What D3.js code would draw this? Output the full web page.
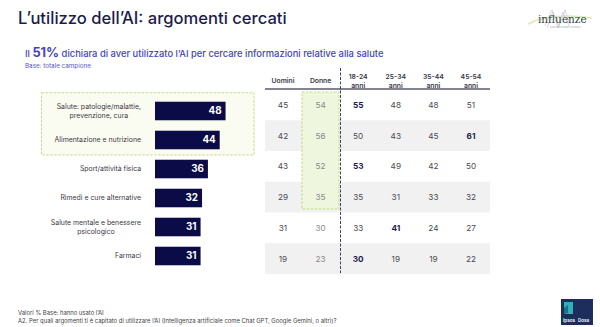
<!DOCTYPE html>
<html>
<head>
<meta charset="utf-8">
<script src="https://cdn.jsdelivr.net/npm/d3@7"></script>
<style>
  html, body { margin: 0; padding: 0; background: #fff; }
  svg { display: block; font-family: "Inter", "Open Sans", sans-serif; }
</style>
</head>
<body>
<svg id="chart" width="600" height="327"></svg>
<script>
// ---------- data ----------
const categories = [
  "Salute: patologie/malattie, prevenzione, cura",
  "Alimentazione e nutrizione",
  "Sport/attività fisica",
  "Rimedi e cure alternative",
  "Salute mentale e benessere psicologico",
  "Farmaci"
];
const categoryLines = [
  ["Salute: patologie/malattie,", "prevenzione, cura"],
  ["Alimentazione e nutrizione"],
  ["Sport/attività fisica"],
  ["Rimedi e cure alternative"],
  ["Salute mentale e benessere", "psicologico"],
  ["Farmaci"]
];
const totals = [48, 44, 36, 32, 31, 31];

const columnKeys = ["Uomini", "Donne", "18-24", "25-34", "35-44", "45-54"];
const columnHeaders = [["Uomini"], ["Donne"], ["18-24", "anni"], ["25-34", "anni"], ["35-44", "anni"], ["45-54", "anni"]];
const uomini = [45, 42, 43, 29, 31, 19];
const donne  = [54, 56, 52, 35, 30, 23];
const eta1824 = [55, 50, 53, 35, 33, 30];
const eta2534 = [48, 43, 49, 31, 41, 19];
const eta3544 = [48, 45, 42, 33, 24, 19];
const eta4554 = [51, 61, 50, 32, 27, 22];
// highlighted (bold) cells: [column, row]
const highlights = [["18-24", 0], ["18-24", 2], ["18-24", 5], ["25-34", 4], ["45-54", 1]];

const titleText = "L\u2019utilizzo dell\u2019AI: argomenti cercati";
const footer1 = "Valori % Base: hanno usato l\u2019AI";
const footer2 = "A2. Per quali argomenti ti è capitato di utilizzare l\u2019AI (Intelligenza artificiale come Chat GPT, Google Gemini, o altri)?";

// ---------- drawing ----------
const svg = d3.select("#chart");
const navy = "#0b0b47";
const dark = "#1c1c4c";
const blue = "#4343c4";

// title
svg.append("text").attr("x", 18).attr("y", 24)
  .attr("font-size", 16.6).attr("font-weight", 500).attr("fill", dark)
  .text(titleText);

// subtitle
const sub = svg.append("text").attr("x", 25).attr("y", 57).attr("fill", blue).attr("font-weight", 500);
sub.append("tspan").attr("font-size", 9.4).text("Il ");
sub.append("tspan").attr("font-size", 12.8).attr("font-weight", 700).text("51%");
sub.append("tspan").attr("font-size", 9.4).text(" dichiara di aver utilizzato l\u2019AI per cercare informazioni relative alla salute");
svg.append("text").attr("x", 25).attr("y", 67.5).attr("font-size", 6.3).attr("fill", "#5555c8").text("Base: totale campione");

// scales for bars
const y = d3.scaleBand().domain(categories).range([96.5, 270.5]).paddingInner(0.36).paddingOuter(0.18);
const x = d3.scaleLinear().domain([0, 100]).range([155, 302]);

// green highlight box around first two categories
const boxTop = y(categories[0]) - 9;
const boxBottom = y(categories[1]) + y.bandwidth() + 5.7;
svg.append("rect").attr("x", 41.5).attr("y", boxTop).attr("width", 212.5).attr("height", boxBottom - boxTop)
  .attr("fill", "#fafcf2").attr("stroke", "#bcd977").attr("stroke-width", 0.9).attr("stroke-dasharray", "2.5,1.5");

// table scales
const col = d3.scalePoint().domain(columnKeys).range([283, 471]);
const row = d3.scaleBand().domain(categories).range([89.5, 274]);
const tableLeft = 265, tableRight = 490;

// row shading
svg.append("g").selectAll("rect").data(categories.filter((d, i) => i % 2 === 1)).join("rect")
  .attr("x", tableLeft).attr("y", d => row(d)).attr("width", tableRight - tableLeft).attr("height", row.bandwidth())
  .attr("fill", "#f1f1f1");

// Donne highlight box
const dTop = row(categories[0]) + 2.5;
const dBottom = row(categories[3]) + row.bandwidth() - 3.5;
svg.append("rect").attr("x", 302).attr("y", dTop).attr("width", 37).attr("height", dBottom - dTop)
  .attr("fill", "#eef6de").attr("stroke", "#bcd977").attr("stroke-width", 0.9).attr("stroke-dasharray", "2.5,1.5");

// header line
svg.append("line").attr("x1", tableLeft).attr("x2", tableRight).attr("y1", 89).attr("y2", 89)
  .attr("stroke", "#5a5a6a").attr("stroke-width", 1.3);

// vertical dashed separator
svg.append("line").attr("x1", 340.5).attr("x2", 340.5).attr("y1", 68).attr("y2", 273)
  .attr("stroke", "#2a2a5a").attr("stroke-width", 0.9).attr("stroke-dasharray", "3,1.5");

// headers
columnKeys.forEach((k, i) => {
  const lines = columnHeaders[i];
  const t = svg.append("text").attr("x", col(k)).attr("text-anchor", "middle")
    .attr("font-size", 6.8).attr("font-weight", 600).attr("fill", "#3a3a48");
  if (lines.length === 1) {
    t.attr("y", 83).text(lines[0]);
  } else {
    t.attr("y", 78.5).text(lines[0]);
    svg.append("text").attr("x", col(k)).attr("y", 87.5).attr("text-anchor", "middle")
      .attr("font-size", 6.8).attr("font-weight", 600).attr("fill", "#3a3a48").text(lines[1]);
  }
});

// table values
const tableData = { "Uomini": uomini, "Donne": donne, "18-24": eta1824, "25-34": eta2534, "35-44": eta3544, "45-54": eta4554 };
const isBold = (k, r) => highlights.some(h => h[0] === k && h[1] === r);
columnKeys.forEach(k => {
  svg.append("g").selectAll("text").data(tableData[k]).join("text")
    .attr("x", col(k)).attr("y", (d, r) => row(categories[r]) + row.bandwidth() / 2 + 3)
    .attr("text-anchor", "middle").attr("font-size", 8.2)
    .attr("font-weight", (d, r) => isBold(k, r) ? 700 : 400)
    .attr("fill", (d, r) => isBold(k, r) ? dark : (k === "Donne" ? "#8a8a8a" : "#4a4a52"))
    .text(d => d);
});

// bars
svg.append("g").selectAll("rect").data(totals).join("rect")
  .attr("x", x(0)).attr("y", (d, i) => y(categories[i]))
  .attr("width", d => x(d) - x(0)).attr("height", y.bandwidth())
  .attr("fill", navy);
svg.append("g").selectAll("text").data(totals).join("text")
  .attr("x", d => x(d) - 4).attr("y", (d, i) => y(categories[i]) + y.bandwidth() / 2 + 3.4)
  .attr("text-anchor", "end").attr("font-size", 9.8).attr("font-weight", 700).attr("fill", "#fff")
  .text(d => d);

// category labels
categoryLines.forEach((lines, i) => {
  const cy = y(categories[i]) + y.bandwidth() / 2;
  const g = svg.append("g");
  const fs = 6.9, lh = 8.8;
  const texts = lines.map((l, j) => g.append("text")
    .attr("y", cy + 2.4 + (j - (lines.length - 1) / 2) * lh)
    .attr("font-size", fs).attr("fill", "#3a3a44").text(l));
  if (lines.length === 1) {
    texts[0].attr("x", 141).attr("text-anchor", "end");
  } else {
    const w = d3.max(texts, t => t.node().getComputedTextLength());
    texts.forEach(t => t.attr("x", 141 - w / 2).attr("text-anchor", "middle"));
  }
});

// footer
svg.append("text").attr("x", 18).attr("y", 315).attr("font-size", 5.9).attr("fill", "#444").text(footer1);
svg.append("text").attr("x", 18).attr("y", 322.5).attr("font-size", 5.9).attr("fill", "#444").text(footer2);

// influenze logo
const lg = svg.append("g");
lg.append("path").attr("d", "M528,24 Q550,12 592,18").attr("fill", "none").attr("stroke", "#dde9b8").attr("stroke-width", 1.5);
lg.append("path").attr("d", "M545,26 L552,10 L558,28 L563,12 L569,26").attr("fill", "none").attr("stroke", "#f2b8b8").attr("stroke-width", 0.7);
lg.append("path").attr("d", "M547,28 L553,12 L559,26 L565,10 L570,24").attr("fill", "none").attr("stroke", "#b9c9e8").attr("stroke-width", 0.7);
lg.append("text").attr("x", 538).attr("y", 23).attr("font-family", "DejaVu Serif, serif").attr("font-size", 10.5)
  .attr("fill", "#2e4a44").text("influenze");
lg.append("text").attr("x", 550).attr("y", 28).attr("font-size", 2.2).attr("fill", "#9aa").text("COMUNICAZIONE E SCIENZA");

// Ipsos Doxa logo
const ip = svg.append("g");
ip.append("rect").attr("x", 561).attr("y", 299).attr("width", 32).attr("height", 26).attr("fill", "#1d2d5c");
ip.append("rect").attr("x", 564).attr("y", 302).attr("width", 9).attr("height", 12).attr("fill", "#2fb0b4");
ip.append("path").attr("d", "M564,308 L568,305 L568,313 L564,314 Z").attr("fill", "#1d6f8a");
ip.append("text").attr("x", 563).attr("y", 321.5).attr("font-size", 4.6).attr("font-weight", 600).attr("fill", "#fff").text("Ipsos");
ip.append("text").attr("x", 578).attr("y", 321.5).attr("font-size", 4.6).attr("font-weight", 600).attr("fill", "#fff").text("Doxa");
</script>
</body>
</html>
